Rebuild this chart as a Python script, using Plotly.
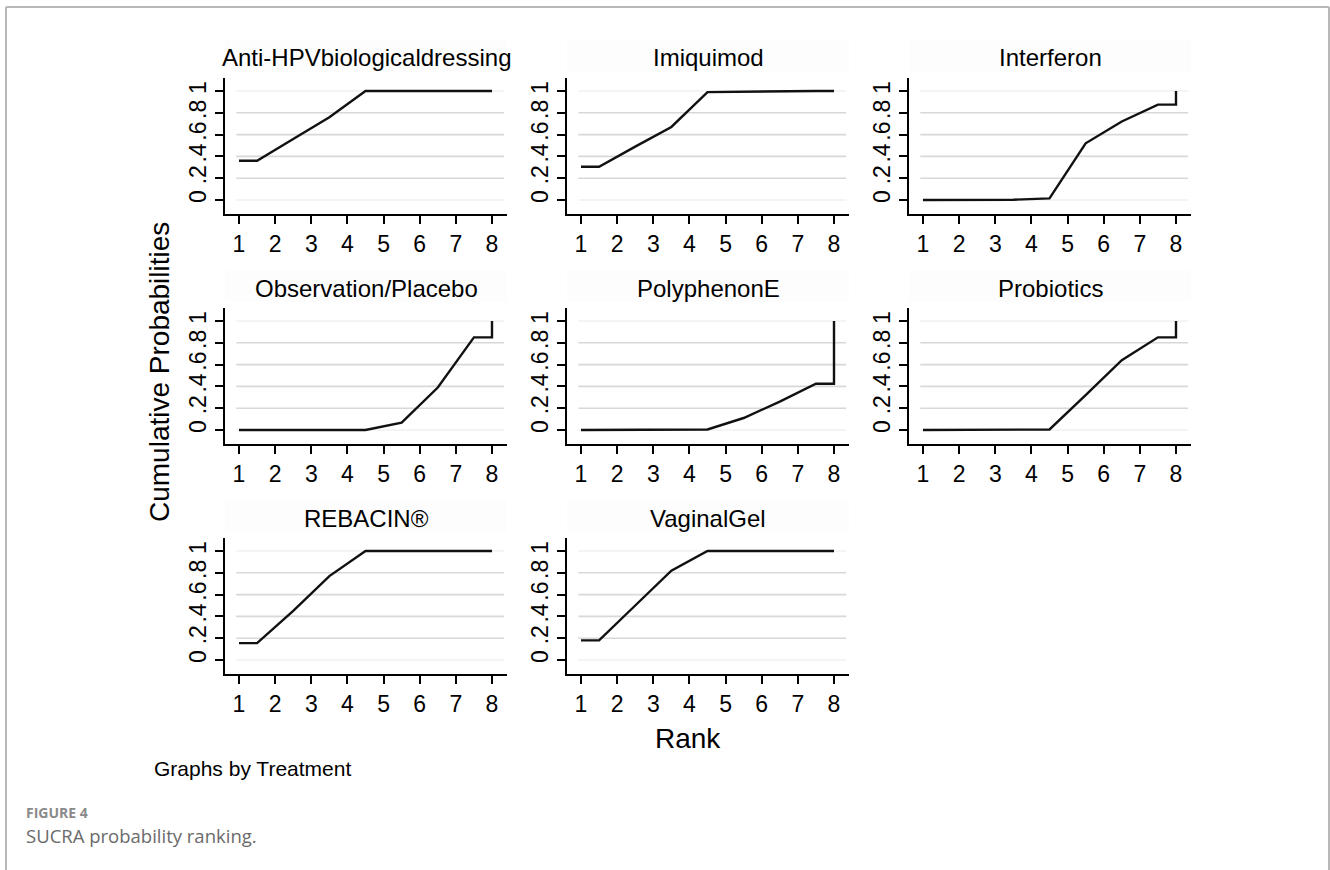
import plotly.graph_objects as go

# ---------------- data ----------------
treatments = ["Anti-HPVbiologicaldressing", "Imiquimod", "Interferon",
              "Observation/Placebo", "PolyphenonE", "Probiotics",
              "REBACIN®", "VaginalGel"]
rank_x = [1, 1.5, 2.5, 3.5, 4.5, 5.5, 6.5, 7.5, 8, 8]
anti_hpv = [0.36, 0.36, 0.56, 0.76, 1.0, 1.0, 1.0, 1.0, 1.0, 1.0]
imiquimod = [0.305, 0.305, 0.49, 0.67, 0.99, 0.995, 1.0, 1.0, 1.0, 1.0]
interferon = [0, 0, 0, 0.003, 0.015, 0.52, 0.72, 0.875, 0.875, 1.0]
observation = [0, 0, 0, 0, 0.0, 0.067, 0.39, 0.85, 0.85, 1.0]
polyphenon = [0, 0, 0, 0.002, 0.005, 0.11, 0.26, 0.425, 0.425, 1.0]
probiotics = [0, 0, 0, 0.002, 0.005, 0.32, 0.64, 0.85, 0.85, 1.0]
rebacin = [0.155, 0.155, 0.45, 0.77, 1.0, 1.0, 1.0, 1.0, 1.0, 1.0]
vaginal_gel = [0.18, 0.18, 0.50, 0.82, 1.0, 1.0, 1.0, 1.0, 1.0, 1.0]
series = [anti_hpv, imiquimod, interferon, observation, polyphenon,
          probiotics, rebacin, vaginal_gel]

x_ticks = [1, 2, 3, 4, 5, 6, 7, 8]
y_ticks = [0, 0.2, 0.4, 0.6, 0.8, 1]
y_tick_text = ["0", ".2", ".4", ".6", ".8", "1"]

# ---------------- layout geometry (pixels) ----------------
W, H = 1330, 870
col_left = [225, 567, 909]
row_top = [78, 308, 538]
pw, ph = 282, 136
x_range = [0.6126, 8.415]
y_range = [-0.1284, 1.1193]

FONT = "Liberation Sans, Arial, sans-serif"

fig = go.Figure()
layout = dict(
    width=W, height=H, margin=dict(l=0, r=0, t=0, b=0),
    paper_bgcolor="white", plot_bgcolor="white", showlegend=False,
    font=dict(family=FONT, color="black"),
)
shapes = []
annotations = []

for i, (name, ys) in enumerate(zip(treatments, series)):
    r, c = divmod(i, 3)
    n = i + 1
    xa = "xaxis" if n == 1 else f"xaxis{n}"
    ya = "yaxis" if n == 1 else f"yaxis{n}"
    xref = "x" if n == 1 else f"x{n}"
    yref = "y" if n == 1 else f"y{n}"
    x0 = col_left[c] / W
    x1 = (col_left[c] + pw) / W
    y1 = 1 - row_top[r] / H
    y0 = 1 - (row_top[r] + ph) / H
    layout[xa] = dict(
        domain=[x0, x1], anchor=yref, range=x_range, tickvals=x_ticks,
        showline=True, linecolor="black", linewidth=1.8, mirror=False,
        ticks="outside", ticklen=8, tickwidth=1.8, tickcolor="black",
        showgrid=False, zeroline=False,
        tickfont=dict(family=FONT, size=23, color="black"),
    )
    layout[ya] = dict(
        domain=[y0, y1], anchor=xref, range=y_range, tickvals=y_ticks,
        ticktext=y_tick_text, tickangle=-90,
        showline=True, linecolor="black", linewidth=1.8, mirror=False,
        ticks="outside", ticklen=8, tickwidth=1.8, tickcolor="black",
        showgrid=False, zeroline=False,
        tickfont=dict(family=FONT, size=23, color="black"),
    )
    # light grid lines
    for yv in y_ticks:
        col = "#f0f0f0" if yv in (0, 1) else "#d8d8d8"
        shapes.append(dict(type="line", xref=f"{xref} domain", yref=yref,
                           x0=0.04, x1=0.99, y0=yv, y1=yv,
                           line=dict(color=col, width=1.6), layer="below"))
    # very faint title band
    shapes.append(dict(type="rect", xref="paper", yref="paper",
                       x0=x0, x1=x1, y0=y1 + 6 / H, y1=y1 + 38 / H,
                       fillcolor="#fdfdfd", line=dict(width=0), layer="below"))
    fig.add_trace(go.Scatter(
        x=rank_x, y=ys, mode="lines", xaxis=xref, yaxis=yref,
        line=dict(color="#111111", width=2.4), hoverinfo="x+y",
    ))
    annotations.append(dict(
        text=name, xref="paper", yref="paper",
        x=(x0 + x1) / 2, y=1 - (row_top[r] - 20) / H,
        xanchor="center", yanchor="middle", showarrow=False,
        font=dict(family=FONT, size=24, color="black"),
    ))

# axis titles and notes
annotations.append(dict(
    text="Cumulative Probabilities", xref="paper", yref="paper",
    x=160 / W, y=1 - 372 / H, textangle=-90, showarrow=False,
    xanchor="center", yanchor="middle",
    font=dict(family=FONT, size=28, color="black"),
))
annotations.append(dict(
    text="Rank", xref="paper", yref="paper",
    x=688 / W, y=1 - 738 / H, showarrow=False,
    xanchor="center", yanchor="middle",
    font=dict(family=FONT, size=28, color="black"),
))
annotations.append(dict(
    text="Graphs by Treatment", xref="paper", yref="paper",
    x=152 / W, y=1 - 768 / H, showarrow=False,
    xanchor="left", yanchor="middle",
    font=dict(family=FONT, size=21, color="black"),
))
annotations.append(dict(
    text="<b>FIGURE 4</b>", xref="paper", yref="paper",
    x=24 / W, y=1 - 812 / H, showarrow=False,
    xanchor="left", yanchor="middle",
    font=dict(family="Open Sans, sans-serif", size=14, color="#8a8a8a"),
))
annotations.append(dict(
    text="SUCRA probability ranking.", xref="paper", yref="paper",
    x=24 / W, y=1 - 835 / H, showarrow=False,
    xanchor="left", yanchor="middle",
    font=dict(family="Open Sans, sans-serif", size=18.5, color="#6a6a6a"),
))

# page frame (top, left, right)
frame_col = "#b8b8b8"
shapes.append(dict(type="line", xref="paper", yref="paper",
                   x0=6 / W, x1=1329 / W, y0=1 - 7 / H, y1=1 - 7 / H,
                   line=dict(color=frame_col, width=2)))
shapes.append(dict(type="line", xref="paper", yref="paper",
                   x0=6 / W, x1=6 / W, y0=1 - 7 / H, y1=0,
                   line=dict(color=frame_col, width=2)))
shapes.append(dict(type="line", xref="paper", yref="paper",
                   x0=1329 / W, x1=1329 / W, y0=1 - 7 / H, y1=0,
                   line=dict(color=frame_col, width=2)))

layout["shapes"] = shapes
layout["annotations"] = annotations
fig.update_layout(**layout)
fig.write_html(
    "out.html",
    config={"displayModeBar": False},
    post_script="document.body.style.margin='0';document.body.style.overflow='hidden';",
)
